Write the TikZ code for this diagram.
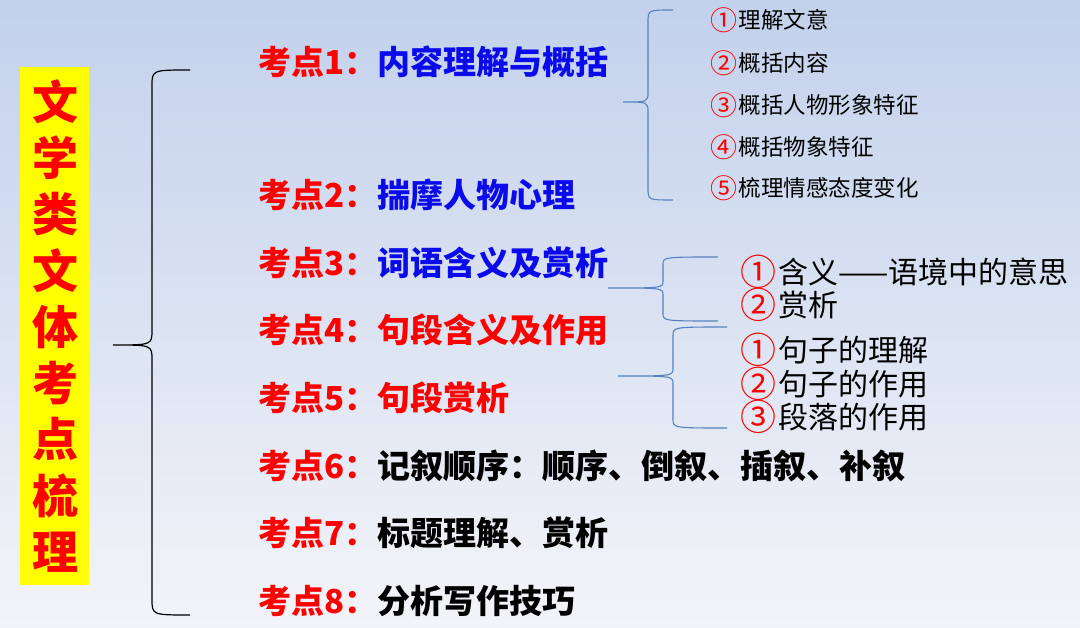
\documentclass[tikz,border=0pt]{standalone}
\usepackage{fontspec}
\setmainfont{Noto Sans CJK SC}
\definecolor{bgtop}{RGB}{194,209,236}
\definecolor{bgmid}{RGB}{199,213,237}
\definecolor{bgbot}{RGB}{243,244,248}
\definecolor{kred}{RGB}{255,0,0}
\definecolor{kblue}{RGB}{10,10,235}
\definecolor{kyellow}{RGB}{255,255,0}
\definecolor{bline}{RGB}{84,130,190}
\tikzset{
  mainitem/.style={anchor=west, inner sep=0pt, font=\fontsize{33}{33}\selectfont\bfseries},
  subsmall/.style={anchor=west, inner sep=0pt, font=\fontsize{22.5}{22.5}\selectfont},
  submid/.style={anchor=west, inner sep=0pt, font=\fontsize{30}{30}\selectfont},
  bigbrace/.style={draw=black, line width=1.2pt},
  smallbrace/.style={draw=bline, line width=1.1pt},
}
\newcommand\kd[1]{\textcolor{kred}{考点#1：}}
\newcommand\cn[1]{\textcolor{kred}{\raisebox{-0.07em}{\scalebox{1.2}{#1}}}\kern0.06em}
\begin{document}
\begin{tikzpicture}[x=1pt,y=-1pt]
\useasboundingbox (0,0) rectangle (1080,628);
\shade[top color=bgtop, middle color=bgmid, bottom color=bgbot] (0,0) rectangle (1080,628);

% title box
\fill[kyellow] (20,67) rectangle (89,585);
\node[inner sep=0pt, align=center, text=kred, font=\fontsize{46}{56.25}\selectfont\bfseries] (title) at (55,326)
  {文\\学\\类\\文\\体\\考\\点\\梳\\理};

% main items
\node[mainitem] (k1) at (258,62)  {\kd{1}\textcolor{kblue}{内容理解与概括}};
\node[mainitem] (k2) at (258,195) {\kd{2}\textcolor{kblue}{揣摩人物心理}};
\node[mainitem] (k3) at (258,263) {\kd{3}\textcolor{kblue}{词语含义及赏析}};
\node[mainitem] (k4) at (258,330) {\kd{4}\textcolor{kred}{句段含义及作用}};
\node[mainitem] (k5) at (258,398) {\kd{5}\textcolor{kred}{句段赏析}};
\node[mainitem] (k6) at (258,466) {\kd{6}记叙顺序：顺序、倒叙、插叙、补叙};
\node[mainitem] (k7) at (258,533) {\kd{7}标题理解、赏析};
\node[mainitem] (k8) at (258,601) {\kd{8}分析写作技巧};

% sub items of 1
\node[subsmall] (s1) at (710,20)  {\cn{①}理解文意};
\node[subsmall] (s2) at (710,63)  {\cn{②}概括内容};
\node[subsmall] (s3) at (710,105) {\cn{③}概括人物形象特征};
\node[subsmall] (s4) at (710,147) {\cn{④}概括物象特征};
\node[subsmall] (s5) at (710,188) {\cn{⑤}梳理情感态度变化};

% sub items of 3
\node[submid] (t1) at (740,272) {\cn{①}含义——语境中的意思};
\node[submid] (t2) at (740,305) {\cn{②}赏析};

% sub items of 4/5
\node[submid] (u1) at (740,350) {\cn{①}句子的理解};
\node[submid] (u2) at (740,384) {\cn{②}句子的作用};
\node[submid] (u3) at (740,417) {\cn{③}段落的作用};

% big brace
\coordinate (B0t) at (190,70);
\coordinate (B0tip) at (113,345);
\coordinate (B0b) at (190,615);
\draw[bigbrace] (B0t) .. controls (152,70) .. (152,86) -- (152,330)
  .. controls (152,345) .. (B0tip) .. controls (152,345) .. (152,360)
  -- (152,599) .. controls (152,615) .. (B0b);

% brace 1
\coordinate (B1t) at (673,10);
\coordinate (B1tip) at (623,102);
\coordinate (B1b) at (673,200);
\draw[smallbrace] (B1t) .. controls (648,10) .. (648,22) -- (648,92)
  .. controls (648,102) .. (B1tip) .. controls (648,102) .. (648,112)
  -- (648,188) .. controls (648,200) .. (B1b);

% brace 2
\coordinate (B2t) at (718,257);
\coordinate (B2tip) at (608,288);
\coordinate (B2b) at (718,321);
\draw[smallbrace] (B2t) .. controls (663,257) .. (663,265) -- (663,281)
  .. controls (663,288) .. (B2tip) .. controls (663,288) .. (663,295)
  -- (663,313) .. controls (663,321) .. (B2b);

% brace 3
\coordinate (B3t) at (727,327);
\coordinate (B3tip) at (618,376);
\coordinate (B3b) at (727,428);
\draw[smallbrace] (B3t) .. controls (673,327) .. (673,336) -- (673,368)
  .. controls (673,376) .. (B3tip) .. controls (673,376) .. (673,384)
  -- (673,419) .. controls (673,428) .. (B3b);
\end{tikzpicture}
\end{document}
